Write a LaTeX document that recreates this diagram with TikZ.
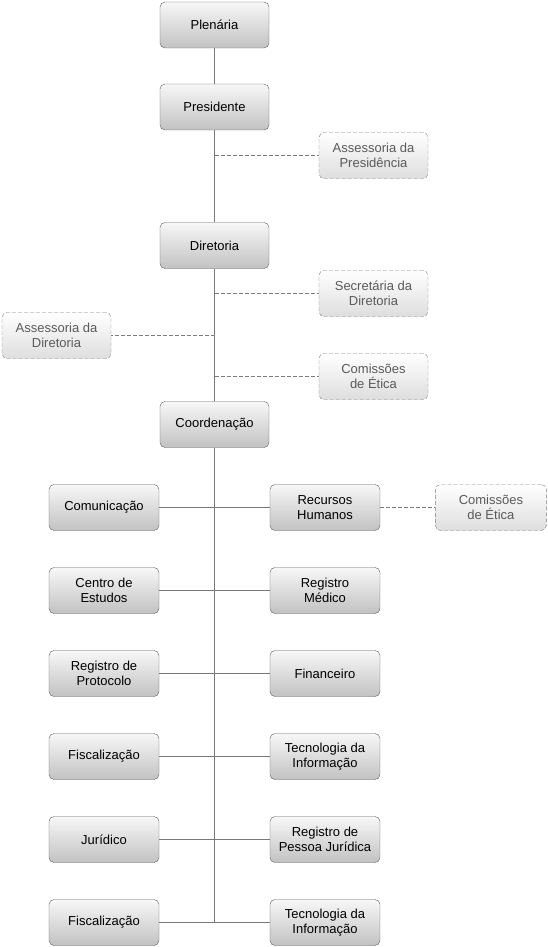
\documentclass[tikz,border=0pt]{standalone}
\usepackage{fontspec}
\setmainfont{Liberation Sans}
\usetikzlibrary{positioning}
\definecolor{boxline}{RGB}{95,95,95}
\definecolor{linkgray}{RGB}{120,120,120}
\definecolor{dashgray}{RGB}{125,125,125}
\definecolor{softtext}{RGB}{90,90,90}
\begin{document}
\begin{tikzpicture}[
  x=1pt,y=-1pt,
  font=\fontsize{13}{15}\selectfont,
  box/.style={draw=boxline,rounded corners=5pt,align=center,minimum height=46pt,minimum width=109pt,inner sep=2pt,top color=black!3,bottom color=black!24},
  dbox/.style={box,draw=dashgray,dash pattern=on 4pt off 2pt,top color=white,bottom color=black!13,text=softtext},
  link/.style={draw=linkgray,line width=0.8pt},
  dlink/.style={link,draw=dashgray,dash pattern=on 4pt off 2pt}
]
\useasboundingbox (0,0) rectangle (547,947);
% main chain
\node[box] (plen) at (214.5,25) {Plenária};
\node[box] (pres) at (214.5,107) {Presidente};
\node[box] (dir) at (214.5,245.5) {Diretoria};
\node[box] (coord) at (214.5,424.5) {Coordenação};
\coordinate (spend) at (214.5,922.5);
% advisory boxes
\node[dbox] (apres) at (373.5,155.5) {Assessoria da\\Presidência};
\node[dbox] (sdir) at (373.5,293.5) {Secretária da\\Diretoria};
\node[dbox] (adir) at (56.5,335.5) {Assessoria da\\Diretoria};
\node[dbox] (cetica) at (373.5,376.5) {Comissões\\de Ética};
\coordinate (sp1) at (214.5,155.5);
\coordinate (sp2) at (214.5,293.5);
\coordinate (sp3) at (214.5,335.5);
\coordinate (sp4) at (214.5,376.5);
% departments
\node[box,minimum width=110pt] (l1) at (104,507.5) {Comunicação};
\node[box,minimum width=110pt] (r1) at (325,507.5) {Recursos\\Humanos};
\node[box,minimum width=110pt] (l2) at (104,590.5) {Centro de\\Estudos};
\node[box,minimum width=110pt] (r2) at (325,590.5) {Registro\\Médico};
\node[box,minimum width=110pt] (l3) at (104,673.5) {Registro de\\Protocolo};
\node[box,minimum width=110pt] (r3) at (325,673.5) {Financeiro};
\node[box,minimum width=110pt] (l4) at (104,756.5) {Fiscalização};
\node[box,minimum width=110pt] (r4) at (325,756.5) {Tecnologia da\\Informação};
\node[box,minimum width=110pt] (l5) at (104,839.5) {Jurídico};
\node[box,minimum width=110pt] (r5) at (325,839.5) {Registro de\\Pessoa Jurídica};
\node[box,minimum width=110pt] (l6) at (104,922.5) {Fiscalização};
\node[box,minimum width=110pt] (r6) at (325,922.5) {Tecnologia da\\Informação};
\node[dbox,minimum width=111pt,right=55pt of r1] (cetica2) {Comissões\\de Ética};
% connectors
\draw[link] (plen) -- (pres);
\draw[link] (pres) -- (dir);
\draw[link] (dir) -- (coord);
\draw[link] (coord) -- (spend);
\draw[dlink] (sp1) -- (apres);
\draw[dlink] (sp2) -- (sdir);
\draw[dlink] (sp3) -- (adir);
\draw[dlink] (sp4) -- (cetica);
\foreach \i in {1,...,6}
  \draw[link] (l\i) -- (r\i);
\draw[dlink] (r1) -- (cetica2);
\end{tikzpicture}
\end{document}
